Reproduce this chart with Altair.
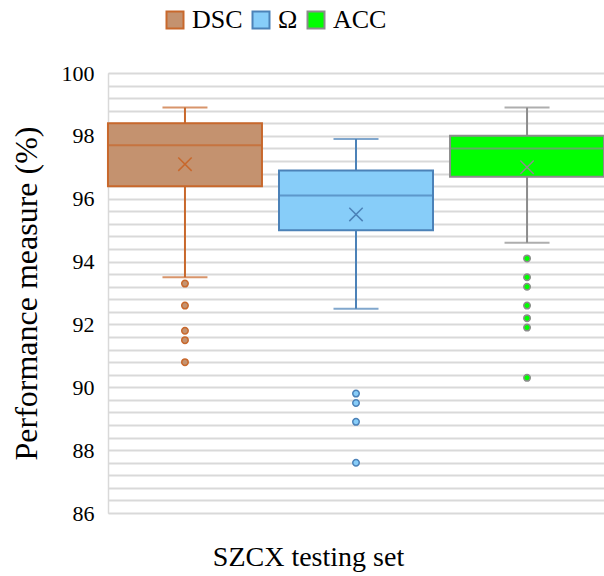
import altair as alt
import pandas as pd

# ---- data ----
series = ["DSC", "Ω", "ACC"]
whisker_low = [93.5, 92.5, 94.6]
q1 = [96.4, 95.0, 96.7]
median = [97.7, 96.1, 97.6]
q3 = [98.4, 96.9, 98.0]
whisker_high = [98.9, 97.9, 98.9]
mean = [97.1, 95.5, 97.0]
outliers_dsc = [93.3, 92.6, 91.8, 91.5, 90.8]
outliers_omega = [89.8, 89.5, 88.9, 87.6]
outliers_acc = [94.1, 93.5, 93.2, 92.6, 92.2, 91.9, 90.3]

y_ticks = [86, 86.4, 86.8, 87.2, 87.6, 88, 88.4, 88.8, 89.2, 89.6, 90, 90.4, 90.8,
           91.2, 91.6, 92, 92.4, 92.8, 93.2, 93.6, 94, 94.4, 94.8, 95.2, 95.6, 96,
           96.4, 96.8, 97.2, 97.6, 98, 98.4, 98.8, 99.2, 99.6, 100]

fill_colors = ["#C4926F", "#87CDF9", "#00FF00"]
stroke_colors = ["#C8682C", "#4C82B8", "#8C8C8C"]

FONT = "Liberation Serif"

stats = pd.DataFrame({
    "series": series, "lo": whisker_low, "q1": q1, "med": median,
    "q3": q3, "hi": whisker_high, "mean": mean,
})
out_rows = []
for s, vals in zip(series, [outliers_dsc, outliers_omega, outliers_acc]):
    for v in vals:
        out_rows.append({"series": s, "v": v})
outs = pd.DataFrame(out_rows)

x_enc = alt.X("series:N", sort=series,
              scale=alt.Scale(type="point", padding=0.45),
              axis=alt.Axis(labels=False, ticks=False, domain=False, grid=False,
                            title="SZCX testing set", titleFont=FONT,
                            titleFontSize=28, titleFontWeight="normal",
                            titleColor="black", titleX=200, titleY=52,
                            titleAlign="center", titleBaseline="alphabetic"))
fill_scale = alt.Scale(domain=series, range=fill_colors)
stroke_scale = alt.Scale(domain=series, range=stroke_colors)

y_scale = alt.Scale(domain=[86, 100], nice=False, zero=False)
y_axis = alt.Axis(values=y_ticks, tickCount=40, labelOverlap=False,
                  labelExpr="abs(datum.value - round(datum.value/2)*2) < 0.01 ? format(datum.value, 'd') : ''",
                  tickSize=0, labelPadding=14, labelFont=FONT, labelFontSize=22,
                  labelColor="black", domainColor="#D9D9D9", domainWidth=1.5,
                  gridColor="#D9D9D9", gridWidth=1.8,
                  title="Performance measure (%)", titleFont=FONT, titleFontSize=32,
                  titleFontWeight="normal", titleColor="black", titlePadding=18)

base = alt.Chart(stats)

legend = alt.Legend(orient="none", legendX=54, legendY=-66, direction="horizontal",
                    title=None, symbolType="square", symbolSize=289,
                    symbolStrokeWidth=2, labelFont=FONT, labelFontSize=26,
                    labelColor="black", labelOffset=4, columnPadding=5)

boxes = base.mark_bar(size=154, strokeWidth=2).encode(
    x=x_enc,
    y=alt.Y("q1:Q", scale=y_scale, axis=y_axis),
    y2="q3:Q",
    fill=alt.Fill("series:N", scale=fill_scale, legend=legend),
    stroke=alt.Stroke("series:N", scale=stroke_scale, legend=legend),
)

whisk_lo = base.mark_rule(strokeWidth=2).encode(
    x=x_enc, y="lo:Q", y2="q1:Q",
    stroke=alt.Stroke("series:N", scale=stroke_scale, legend=None))
whisk_hi = base.mark_rule(strokeWidth=2).encode(
    x=x_enc, y="q3:Q", y2="hi:Q",
    stroke=alt.Stroke("series:N", scale=stroke_scale, legend=None))

cap_lo = base.mark_tick(size=45, thickness=2, orient="horizontal").encode(
    x=x_enc, y="lo:Q",
    color=alt.Color("series:N", scale=stroke_scale, legend=None))
cap_hi = base.mark_tick(size=45, thickness=2, orient="horizontal").encode(
    x=x_enc, y="hi:Q",
    color=alt.Color("series:N", scale=stroke_scale, legend=None))
med_tick = base.mark_tick(size=154, thickness=2, orient="horizontal").encode(
    x=x_enc, y="med:Q",
    color=alt.Color("series:N", scale=stroke_scale, legend=None))

mean_pt = base.mark_point(shape="M-1,-1L1,1M-1,1L1,-1", filled=False,
                          size=180, strokeWidth=1.5, opacity=1).encode(
    x=x_enc, y="mean:Q",
    stroke=alt.Stroke("series:N", scale=stroke_scale, legend=None))

out_pts = alt.Chart(outs).mark_point(shape="circle", filled=True, size=42,
                                     strokeWidth=1.5, opacity=1).encode(
    x=x_enc, y="v:Q",
    fill=alt.Fill("series:N", scale=fill_scale, legend=None),
    stroke=alt.Stroke("series:N", scale=stroke_scale, legend=None))

chart = alt.layer(boxes, whisk_lo, whisk_hi, cap_lo, cap_hi, med_tick, mean_pt, out_pts).properties(
    width=496, height=440,
    padding={"left": 108, "top": 73, "right": 0, "bottom": 63},
    autosize=alt.AutoSizeParams(type="none"),
).configure_view(strokeWidth=0).configure(background="white")

chart.save("out.html", embed_options={"renderer": "svg", "actions": False})
